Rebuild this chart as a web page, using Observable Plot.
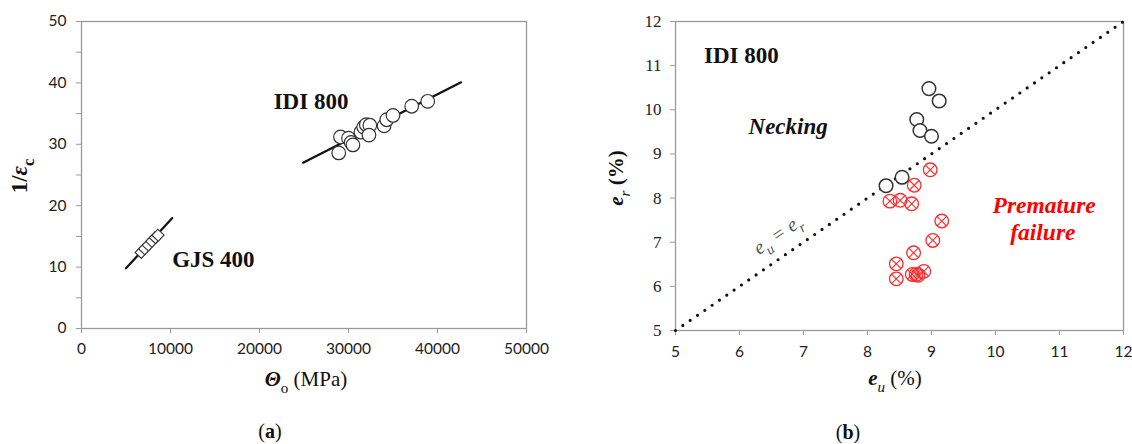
<!DOCTYPE html>
<html><head><meta charset="utf-8">
<script src="https://cdn.jsdelivr.net/npm/d3@7"></script>
<script src="https://cdn.jsdelivr.net/npm/@observablehq/plot@0.6"></script>
<style>
body{margin:0;background:#fff;}
#wrap{display:flex;width:1132px;height:444px;background:#fff;}
#wrap > svg{flex:none;display:block;}
</style></head><body><div id="wrap"></div>
<script>
// ---------- Panel (a) data ----------
const idiTheta  = [28900, 29100, 30000, 30300, 30500, 31400, 31700, 32000, 32400, 32300, 34000, 34300, 35000, 37100, 38900];
const idiInvEps = [28.6, 31.2, 31.0, 30.3, 29.9, 32.0, 32.8, 33.2, 33.1, 31.5, 33.0, 34.0, 34.7, 36.2, 37.0];
const gjsTheta  = [6700, 7100, 7500, 7900, 8300, 8600];
const gjsInvEps = [12.4, 13.0, 13.6, 14.2, 14.8, 15.2];
const idiFitTheta = [24900, 42650];
const idiFitInvEps = [27.0, 40.1];
const gjsFitTheta = [5000, 10200];
const gjsFitInvEps = [9.8, 18.0];
const xTicksA = [0, 10000, 20000, 30000, 40000, 50000];
const yTicksA = [0, 10, 20, 30, 40, 50];
const yMinorA = [5, 15, 25, 35, 45];
const labelsA = ["IDI 800", "GJS 400"];
const labelXA = [25790, 14820];
const labelYA = [36.9, 11.2];

// ---------- Panel (b) data ----------
const neckEu = [8.29, 8.54, 8.77, 8.82, 9.00, 8.96, 9.12];
const neckEr = [8.28, 8.47, 9.78, 9.53, 9.40, 10.48, 10.20];
const failEu = [8.98, 8.73, 8.35, 8.51, 8.69, 9.16, 9.02, 8.72, 8.45, 8.45, 8.70, 8.76, 8.79, 8.88];
const failEr = [8.64, 8.29, 7.93, 7.95, 7.87, 7.48, 7.04, 6.76, 6.51, 6.17, 6.27, 6.27, 6.25, 6.34];
const equalityLine = [5, 12];
const ticksB = [5, 6, 7, 8, 9, 10, 11, 12];

const SERIF = "'Liberation Serif','Times New Roman',serif";
const SANS = "Lato,'Liberation Sans',sans-serif";

const zip = (xs, ys) => xs.map((x, i) => ({x, y: ys[i]}));

const plotA = Plot.plot({
  width: 566, height: 444,
  marginLeft: 81, marginRight: 40, marginTop: 21, marginBottom: 116,
  style: {background: "white", fontFamily: SANS, fontSize: "15.5px", color: "#222"},
  x: {domain: [0, 50000]},
  y: {domain: [0, 50]},
  marks: [
    Plot.frame({stroke: "#9a9a9a", strokeWidth: 1.3}),
    Plot.axisX({ticks: xTicksA, tickFormat: d => String(d), tickSize: 5, tickPadding: 9, stroke: "#9a9a9a", fill: "#222", label: null}),
    Plot.axisY({ticks: yMinorA, tickFormat: () => "", tickSize: 5, stroke: "#9a9a9a", label: null}),
    Plot.axisY({ticks: yTicksA, tickFormat: d => String(d), tickSize: 5, tickPadding: 10, stroke: "#9a9a9a", fill: "#222", label: null}),
    Plot.line(zip(idiFitTheta, idiFitInvEps), {x: "x", y: "y", stroke: "#111", strokeWidth: 2.2}),
    Plot.line(zip(gjsFitTheta, gjsFitInvEps), {x: "x", y: "y", stroke: "#111", strokeWidth: 2.2}),
    Plot.dot(zip(gjsTheta, gjsInvEps), {x: "x", y: "y", symbol: "square", r: 4.8, rotate: 43, fill: "white", stroke: "#333", strokeWidth: 1.1}),
    Plot.dot(zip(idiTheta, idiInvEps), {x: "x", y: "y", r: 6.8, fill: "white", stroke: "#333", strokeWidth: 1.2}),
    Plot.text(labelsA.map((t, i) => ({t, x: labelXA[i], y: labelYA[i]})), {x: "x", y: "y", text: "t", fontFamily: SERIF, fontWeight: "bold", fontSize: 23, fill: "#111"})
  ]
});

const plotB = Plot.plot({
  width: 566, height: 444,
  marginLeft: 109, marginRight: 9, marginTop: 21, marginBottom: 114,
  style: {background: "white", fontFamily: SANS, fontSize: "15.5px", color: "#222"},
  x: {domain: [5, 12]},
  y: {domain: [5, 12]},
  marks: [
    Plot.frame({stroke: "#9a9a9a", strokeWidth: 1.3}),
    Plot.axisX({ticks: ticksB, tickFormat: d => String(d), tickSize: 5, tickPadding: 10, stroke: "#9a9a9a", fill: "#222", label: null}),
    Plot.axisY({ticks: ticksB, tickFormat: d => String(d), tickSize: 5, tickPadding: 9, stroke: "#9a9a9a", fill: "#222", fontFamily: SERIF, fontSize: 17, label: null}),
    Plot.line(zip(equalityLine, equalityLine), {x: "x", y: "y", stroke: "#111", strokeWidth: 3.2, strokeDasharray: "0,8.9", strokeLinecap: "round"}),
    Plot.dot(zip(neckEu, neckEr), {x: "x", y: "y", r: 6.8, fill: "white", stroke: "#333", strokeWidth: 1.5}),
    Plot.dot(zip(failEu, failEr), {x: "x", y: "y", r: 6.8, fill: "none", stroke: "#ff2a2a", strokeWidth: 1.3}),
    Plot.dot(zip(failEu, failEr), {x: "x", y: "y", symbol: "times", r: 4.4, stroke: "#ff2a2a", strokeWidth: 1.1}),
    Plot.text([{x: 6.03, y: 11.23, t: "IDI 800"}], {x: "x", y: "y", text: "t", fontFamily: SERIF, fontWeight: "bold", fontSize: 23, fill: "#111"}),
    Plot.text([{x: 6.76, y: 9.61, t: "Necking"}], {x: "x", y: "y", text: "t", fontFamily: SERIF, fontWeight: "bold", fontStyle: "italic", fontSize: 23, fill: "#111"}),
    Plot.text([{x: 10.76, y: 7.83, t: "Premature"}, {x: 10.74, y: 7.21, t: "failure"}], {x: "x", y: "y", text: "t", fontFamily: SERIF, fontWeight: "bold", fontStyle: "italic", fontSize: 23.5, fill: "#ff0000"})
  ]
});

const wrap = document.getElementById("wrap");
wrap.appendChild(plotA);
wrap.appendChild(plotB);

// Rich text helper (tspans for subscripts / mixed styles)
function addText(svg, x, y, parts, {size = 21, anchor = "middle", rotate = 0, fill = "#111"} = {}) {
  const t = d3.select(svg).append("text")
    .attr("transform", `translate(${x},${y}) rotate(${rotate})`)
    .attr("text-anchor", anchor)
    .attr("dy", "0.35em")
    .attr("font-family", SERIF)
    .attr("font-size", size)
    .attr("fill", fill);
  let shifted = 0;
  for (const p of parts) {
    const s = t.append("tspan").text(p.t);
    if (p.w) s.attr("font-weight", p.w);
    if (p.i) s.attr("font-style", "italic");
    const target = p.sub ? 0.3 : 0;
    if (target !== shifted) { s.attr("dy", (target - shifted) * size); shifted = target; }
    if (p.sub) s.attr("font-size", size * 0.72);
  }
  return t;
}

// Panel (a) titles
addText(plotA, 19, 176, [{t: "1/", w: "bold"}, {t: "ε", w: "bold", i: true}, {t: "c", w: "bold", sub: true}], {size: 23, rotate: -90});
addText(plotA, 306, 379, [{t: "Θ", w: "bold", i: true}, {t: "o", sub: true}, {t: " (MPa)"}], {size: 21});
addText(plotA, 270, 431, [{t: "("}, {t: "a", w: "bold"}, {t: ")"}], {size: 20});

// Panel (b) titles
addText(plotB, 50, 178, [{t: "e", w: "bold", i: true}, {t: "r", i: true, sub: true}, {t: " (%)", w: "bold"}], {size: 21, rotate: -90});
addText(plotB, 329, 378, [{t: "e", w: "bold", i: true}, {t: "u", i: true, sub: true}, {t: " (%)"}], {size: 21});
addText(plotB, 282, 432, [{t: "("}, {t: "b", w: "bold"}, {t: ")"}], {size: 20});

// e_u = e_r label along the dotted line, using the plot's own scales
const sx = plotB.scale("x"), sy = plotB.scale("y");
const ang = Math.atan2(sy.apply(6) - sy.apply(5), sx.apply(6) - sx.apply(5)) * 180 / Math.PI;
addText(plotB, sx.apply(6.6), sy.apply(7.17),
  [{t: "e", i: true}, {t: "u", i: true, sub: true}, {t: " = e", i: true}, {t: "r", i: true, sub: true}],
  {size: 20, rotate: ang, fill: "#555"});
</script></body></html>
